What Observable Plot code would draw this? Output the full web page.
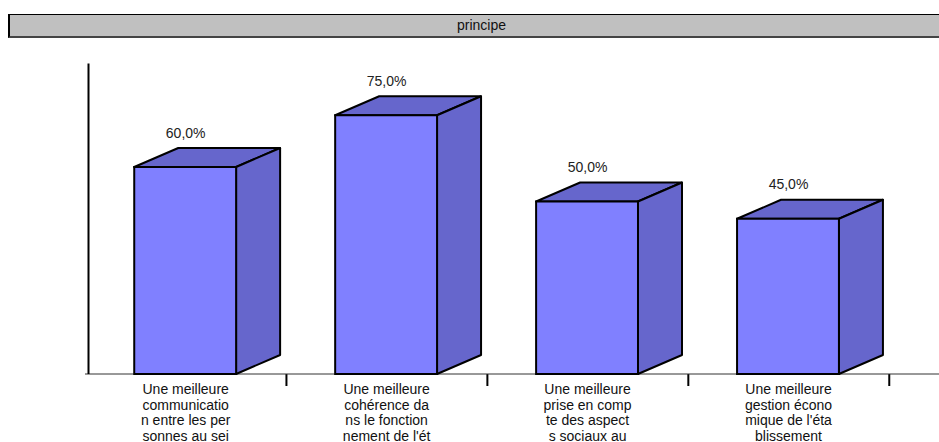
<!DOCTYPE html>
<html>
<head>
<meta charset="utf-8">
<script src="https://cdn.jsdelivr.net/npm/d3@7"></script>
<script src="https://cdn.jsdelivr.net/npm/@observablehq/plot@0.6"></script>
<style>
  html, body { margin: 0; padding: 0; background: #fff; }
  #wrap { position: relative; width: 939px; height: 442px; overflow: hidden; font-family: Arial, "Liberation Sans", sans-serif; }
  #title {
    position: absolute; left: 8px; top: 14px; width: 931px; height: 24px;
    box-sizing: border-box; background: #c0c0c0;
    border-top: 1px solid #000; border-left: 2px solid #000; border-bottom: 2px solid #444;
    font-size: 14px; line-height: 20px; text-align: center; color: #111;
    z-index: 2;
  }
  #title span { position: relative; left: 7px; }
  #chart { position: absolute; left: 0; top: 0; }
  #chart g[aria-label^="x-axis"] path, #chart g[aria-label^="x-axis"] line { stroke-width: 2; }
</style>
</head>
<body>
<div id="wrap">
  <div id="chart"></div>
  <div id="title"><span>principe</span></div>
</div>
<script>
// ---- data ----
const categories = [
  "Une meilleure\ncommunicatio\nn entre les per\nsonnes au sei",
  "Une meilleure\ncohérence da\nns le fonction\nnement de l'ét",
  "Une meilleure\nprise en comp\nte des aspect\ns sociaux au",
  "Une meilleure\ngestion écono\nmique de l'éta\nblissement"
];
const values = [60, 75, 50, 45];
const valueLabels = ["60,0%", "75,0%", "50,0%", "45,0%"];
const tickPositions = [1, 2, 3, 4];

// ---- geometry (styling of the pseudo-3D columns, in scale units) ----
const frontLeft = 0.245, frontRight = 0.752;
const depthX = 0.219, depthY = 5.5;
const center = (frontLeft + frontRight) / 2;

const fronts = values.map((v, i) => ({i, x1: i + frontLeft, x2: i + frontRight, y1: 0, y2: v}));
const sides = values.flatMap((v, i) => [
  {i, x: i + frontRight, y1: 0, y2: v},
  {i, x: i + frontRight + depthX, y1: depthY, y2: v + depthY}
]);
const tops = values.flatMap((v, i) => [
  {i, y: v, x1: i + frontLeft, x2: i + frontRight},
  {i, y: v + depthY, x1: i + frontLeft + depthX, x2: i + frontRight + depthX}
]);

const chart = Plot.plot({
  width: 939,
  height: 442,
  marginLeft: 85,
  marginRight: 0,
  marginTop: 63.5,
  marginBottom: 68,
  style: {fontFamily: "Arial, 'Liberation Sans', sans-serif", fontSize: "14px", background: "transparent", overflow: "visible"},
  x: {domain: [0, 4.25], ticks: tickPositions, tickSize: 12, tickFormat: () => "", label: null},
  y: {domain: [0, 90], axis: null},
  marks: [
    Plot.ruleY([0], {stroke: "#333", strokeWidth: 1, dy: -0.5}),
    Plot.ruleX([0], {dx: 3, stroke: "#000", strokeWidth: 2}),
    Plot.areaX(tops, {y: "y", x1: "x1", x2: "x2", z: "i", fill: "#6666cc", stroke: "#000", strokeWidth: 2}),
    Plot.areaY(sides, {x: "x", y1: "y1", y2: "y2", z: "i", fill: "#6666cc", stroke: "#000", strokeWidth: 2}),
    Plot.rect(fronts, {x1: "x1", x2: "x2", y1: "y1", y2: "y2", fill: "#8080ff", stroke: "#000", strokeWidth: 2}),
    Plot.text(values, {x: (d, i) => i + center, y: d => d + depthY, text: (d, i) => valueLabels[i], lineAnchor: "bottom", dy: -11, fill: "#222", fontSize: 14}),
    Plot.text(categories, {x: (d, i) => i + center, y: 0, text: d => d, lineAnchor: "top", dy: 9, lineHeight: 1.1, fill: "#111", fontSize: 14})
  ]
});
document.getElementById("chart").appendChild(chart);
</script>
</body>
</html>
